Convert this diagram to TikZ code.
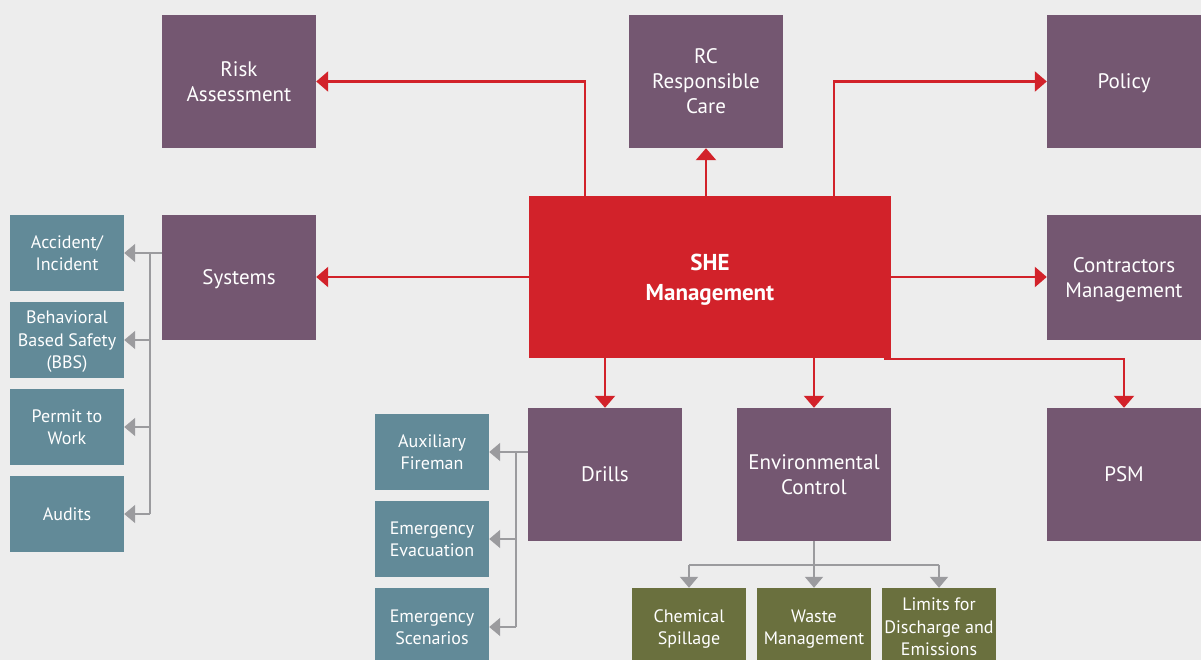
\documentclass[tikz,border=0pt]{standalone}
\usepackage{fontspec}
\setmainfont{PT Sans}
\usetikzlibrary{arrows.meta}
\definecolor{bgc}{RGB}{237,237,237}
\definecolor{purp}{RGB}{116,87,113}
\definecolor{shered}{RGB}{210,34,42}
\definecolor{teal2}{RGB}{98,138,152}
\definecolor{olive2}{RGB}{106,112,62}
\definecolor{grayln}{RGB}{155,155,158}
\tikzset{
  box/.style={inner sep=0pt, align=center, text=white, text depth=-3pt},
  pbox/.style={box, fill=purp, minimum width=154pt, minimum height=133pt, font=\fontsize{21}{25}\selectfont},
  tbox/.style={box, fill=teal2, minimum width=114pt, minimum height=76pt, font=\fontsize{18}{22.5}\selectfont},
  gbox/.style={box, fill=olive2, minimum width=114pt, minimum height=78pt, font=\fontsize{18}{22.5}\selectfont},
  redarrow/.style={draw=shered, line width=2.4pt, -{Triangle[width=20pt,length=12pt]}},
  grayarrow/.style={draw=grayln, line width=1.8pt, -{Triangle[width=18pt,length=11pt]}},
  grayline/.style={draw=grayln, line width=1.8pt},
}
\begin{document}
\begin{tikzpicture}[x=1pt,y=-1pt]
\fill[bgc] (0,0) rectangle (1201,660);
\useasboundingbox (0,0) rectangle (1201,660);
\clip (0,0) rectangle (1201,660);
% purple boxes
\node[pbox] (risk) at (239,81.5) {Risk\\Assessment};
\node[pbox] (rc) at (706,81.5) {RC\\Responsible\\Care};
\node[pbox] (policy) at (1124,81.5) {Policy};
\node[pbox, minimum height=125pt] (systems) at (239,277.5) {Systems};
\node[pbox, minimum height=125pt] (contr) at (1124,277.5) {Contractors\\Management};
\node[pbox] (drills) at (605,474.5) {Drills};
\node[pbox] (env) at (814,474.5) {Environmental\\Control};
\node[pbox] (psm) at (1124,474.5) {PSM};
% central
\node[box, fill=shered, minimum width=362pt, minimum height=162pt, font=\fontsize{23}{30}\selectfont\bfseries] (she) at (710,277) {SHE\\Management};
% teal boxes
\node[tbox] (acc) at (67,253) {Accident/\\Incident};
\node[tbox] (bbs) at (67,340) {Behavioral\\Based Safety\\(BBS)};
\node[tbox] (ptw) at (67,427) {Permit to\\Work};
\node[tbox] (aud) at (67,514) {Audits};
\node[tbox] (aux) at (432,452) {Auxiliary\\Fireman};
\node[tbox] (evac) at (432,539) {Emergency\\Evacuation};
\node[tbox, minimum height=78pt] (scen) at (432,627) {Emergency\\Scenarios};
% olive boxes
\node[gbox] (chem) at (689,627) {Chemical\\Spillage};
\node[gbox] (waste) at (814,627) {Waste\\Management};
\node[gbox] (limits) at (939,627) {Limits for\\Discharge and\\Emissions};
% red connectors
\draw[redarrow] ([xshift=56pt]she.north west) |- (risk.east);
\draw[redarrow] (she.north -| rc.south) -- (rc.south);
\draw[redarrow] ([xshift=-57pt]she.north east) |- (policy.west);
\draw[redarrow] (she.west) -- (she.west -| systems.east);
\draw[redarrow] (she.east) -- (she.east -| contr.west);
\draw[redarrow] (she.south -| drills.north) -- (drills.north);
\draw[redarrow] (she.south -| env.north) -- (env.north);
\draw[redarrow] ([shift={(-7pt,-1pt)}]she.south east) -| (psm.north);
% gray connectors: systems
\coordinate (sj) at (150,253);
\coordinate (sjb) at (150,514);
\draw[grayline] ([yshift=24.5pt]systems.west) -- (sj) -- (sjb);
\draw[grayarrow] (sj) -- (acc.east);
\draw[grayarrow] (sj |- bbs.east) -- (bbs.east);
\draw[grayarrow] (sj |- ptw.east) -- (ptw.east);
\draw[grayarrow] (sjb) -- (aud.east);
% drills
\coordinate (dj) at (516,452);
\coordinate (djb) at (516,627);
\draw[grayline] ([yshift=22.5pt]drills.west) -- (dj) -- (djb);
\draw[grayarrow] (dj) -- (aux.east);
\draw[grayarrow] (dj |- evac.east) -- (evac.east);
\draw[grayarrow] (djb) -- (scen.east);
% environmental
\coordinate (ej) at (814,565);
\draw[grayline] (env.south) -- (ej);
\draw[grayline] (ej -| chem.north) -- (ej -| limits.north);
\draw[grayarrow] (ej -| chem.north) -- (chem.north);
\draw[grayarrow] (ej) -- (waste.north);
\draw[grayarrow] (ej -| limits.north) -- (limits.north);
\end{tikzpicture}
\end{document}
